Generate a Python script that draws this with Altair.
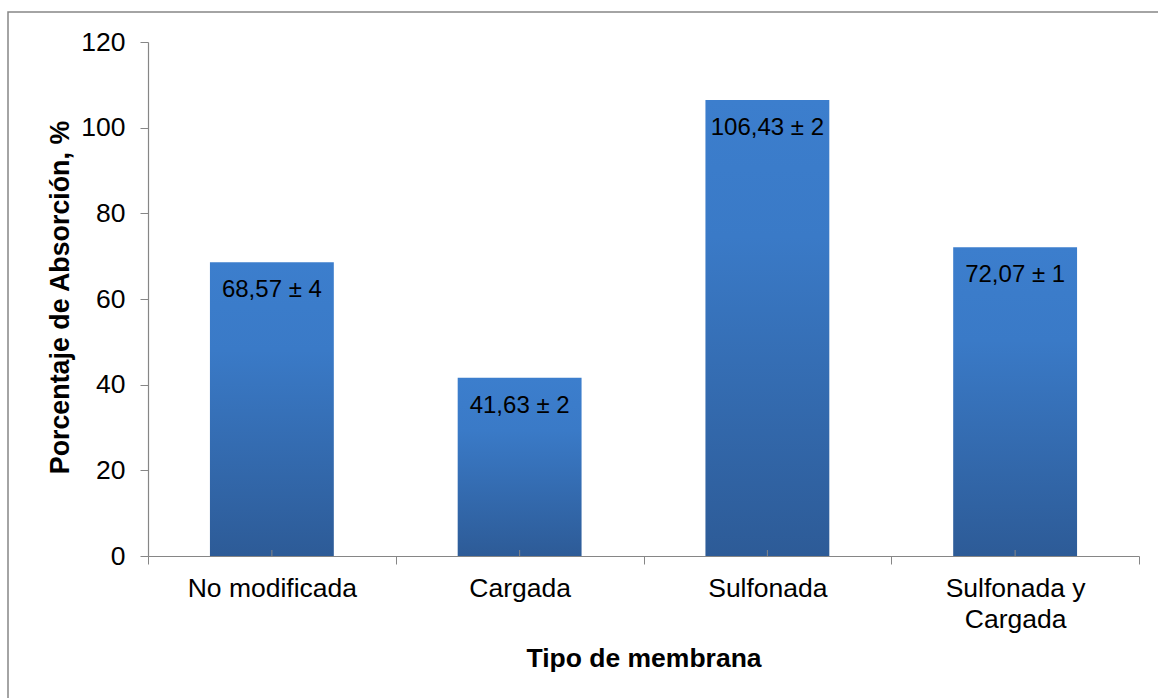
import altair as alt
import pandas as pd

# Absorption percentage by membrane type (mean ± deviation)
membranas = ["No modificada", "Cargada", "Sulfonada", "Sulfonada y Cargada"]
absorcion = [68.57, 41.63, 106.43, 72.07]
desviacion = [4, 2, 2, 1]
y_ticks = [0, 20, 40, 60, 80, 100, 120]

etiquetas = [f"{str(v).replace('.', ',')} ± {d}" for v, d in zip(absorcion, desviacion)]

df = pd.DataFrame({"membrana": membranas, "absorcion": absorcion, "etiqueta": etiquetas})

W, H = 991, 514
FONT = "Liberation Sans"
GRAY = "#868686"

x_enc = alt.X(
    "membrana:N",
    sort=membranas,
    scale=alt.Scale(paddingInner=0, paddingOuter=0),
    axis=alt.Axis(
        title="Tipo de membrana",
        tickBand="extent",
        tickSize=8,
        tickColor=GRAY,
        domainColor=GRAY,
        domainWidth=1.2,
        labelAngle=0,
        labelFont=FONT,
        labelFontSize=26.5,
        labelColor="#000000",
        labelPadding=11,
        labelLineHeight=31,
        labelExpr="datum.label == 'Sulfonada y Cargada' ? ['Sulfonada y', 'Cargada'] : datum.label",
        titleFont=FONT,
        titleFontSize=26.5,
        titleFontWeight="bold",
        titleColor="#000000",
        titleBaseline="alphabetic",
        titleY=110,
    ),
)

y_enc = alt.Y(
    "absorcion:Q",
    scale=alt.Scale(domain=[0, 120], nice=False),
    axis=alt.Axis(
        title="Porcentaje de Absorción, %",
        values=y_ticks,
        grid=False,
        tickSize=8,
        tickColor=GRAY,
        domainColor=GRAY,
        domainWidth=1.2,
        labelFont=FONT,
        labelFontSize=26.5,
        labelColor="#000000",
        labelPadding=15,
        titleFont=FONT,
        titleFontSize=26.8,
        titleFontWeight="bold",
        titleColor="#000000",
        titleAngle=-90,
        titleBaseline="alphabetic",
        titleAlign="center",
        titleX=-80,
        titleY=H / 2 - 2,
    ),
)

bar_fill = alt.Gradient(
    gradient="linear",
    x1=0, x2=0, y1=0, y2=1,
    stops=[
        alt.GradientStop(color="#3C7ECD", offset=0),
        alt.GradientStop(color="#3A7AC7", offset=0.3),
        alt.GradientStop(color="#2D5B97", offset=1),
    ],
)

base = alt.Chart(df)

bars = base.mark_bar(color=bar_fill, width=alt.RelativeBandSize(0.5)).encode(x=x_enc, y=y_enc)

labels = base.mark_text(
    dy=35, baseline="alphabetic", font=FONT, fontSize=24, color="#000000"
).encode(x=x_enc, y=y_enc, text="etiqueta:N")

# short marker at the centre of each category on the baseline
center_marks = base.mark_rule(color=GRAY, strokeWidth=1).encode(
    x=x_enc, y=alt.value(H - 6), y2=alt.value(H)
)

# outer chart frame
frame = alt.Chart(pd.DataFrame({"k": [0]})).mark_rect(
    fillOpacity=0, stroke=GRAY, strokeWidth=1.5
).encode(
    x=alt.value(-140), x2=alt.value(W + 60), y=alt.value(-30), y2=alt.value(H + 200)
)

chart = (
    alt.layer(frame, bars, center_marks, labels)
    .properties(
        width=W,
        height=H,
        autosize=alt.AutoSizeParams(type="none"),
        padding={"left": 148, "top": 42, "right": 19, "bottom": 142},
        background="#ffffff",
    )
    .configure_view(stroke=None)
)

chart.save("out.html", embed_options={"renderer": "svg", "actions": False})
